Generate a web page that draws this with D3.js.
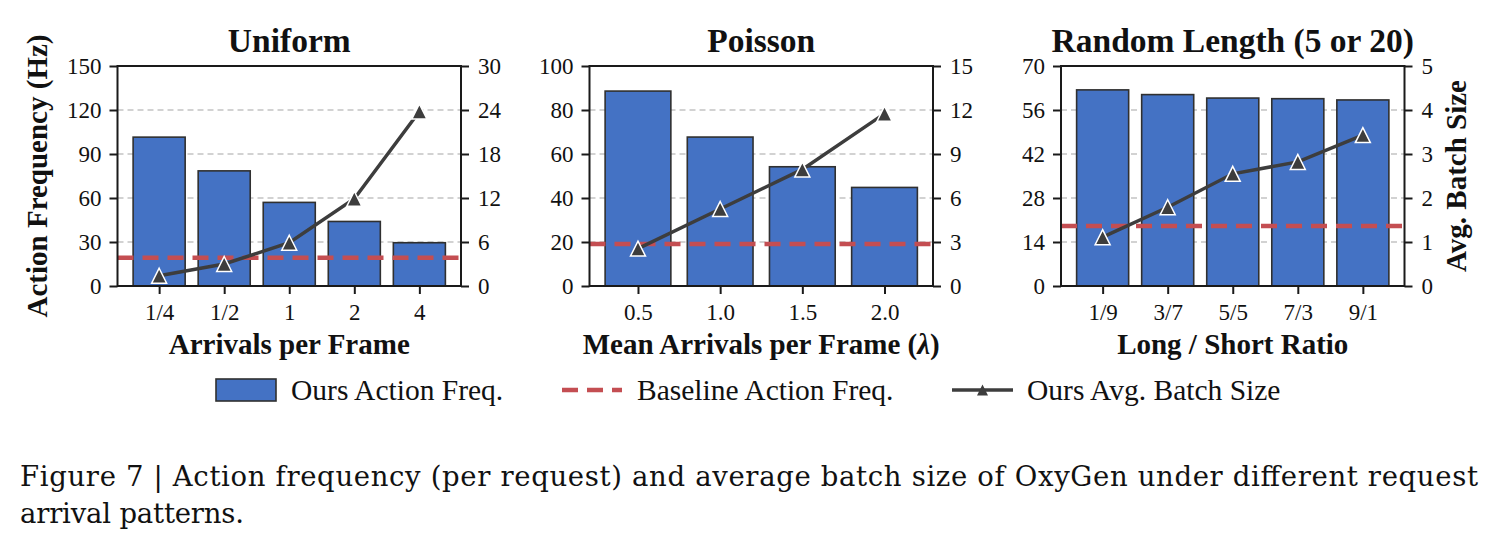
<!DOCTYPE html>
<html>
<head>
<meta charset="utf-8" />
<title>Figure 7</title>
<script src="https://cdn.jsdelivr.net/npm/d3@7"></script>
<style>
	body { margin: 0; background: #fff; }
</style>
</head>
<body>
<script>

// data
var uniformCats = ["1/4", "1/2", "1", "2", "4"];
var uniformFreq = [101.5, 78.5, 57, 44, 29.5];
var uniformBatch = [1.4, 3.0, 5.9, 11.9, 23.8];

var poissonCats = ["0.5", "1.0", "1.5", "2.0"];
var poissonFreq = [88.6, 67.7, 54.2, 44.8];
var poissonBatch = [2.55, 5.25, 7.95, 11.75];

var lengthCats = ["1/9", "3/7", "5/5", "7/3", "9/1"];
var lengthFreq = [62.4, 60.9, 59.8, 59.6, 59.2];
var lengthBatch = [1.11, 1.79, 2.55, 2.82, 3.43];

var baselineFreq = [19.3, 19.1, 19.1];

var leftTicks = [
	[0, 30, 60, 90, 120, 150],
	[0, 20, 40, 60, 80, 100],
	[0, 14, 28, 42, 56, 70]
];
var rightTicks = [
	[0, 6, 12, 18, 24, 30],
	[0, 3, 6, 9, 12, 15],
	[0, 1, 2, 3, 4, 5]
];

var titles = ["Uniform", "Poisson", "Random Length (5 or 20)"];
var xLabels = ["Arrivals per Frame", "Mean Arrivals per Frame", "Long / Short Ratio"];

var barColor = "#4472c4";
var baseColor = "#c44e52";
var lineColor = "#3d3d3d";
var serif = "Liberation Serif, Times New Roman, serif";

var svg = d3.select("body").append("svg")
	.attr("width", 1496)
	.attr("height", 542)
	.attr("font-family", serif)
	.attr("fill", "#111");

var panels = [
	{ cats: uniformCats, freq: uniformFreq, batch: uniformBatch, x0: 117.5, x1: 461 },
	{ cats: poissonCats, freq: poissonFreq, batch: poissonBatch, x0: 589.5, x1: 933 },
	{ cats: lengthCats, freq: lengthFreq, batch: lengthBatch, x0: 1061, x1: 1404.5 }
];
var plotTop = 66, plotBottom = 286;

function triangle(s) {
	return "M0," + (-s / 2) + "L" + (s / 2) + "," + (s / 2) + "L" + (-s / 2) + "," + (s / 2) + "Z";
}

panels.forEach(function(p, k) {
	var n = p.cats.length;
	var m = 0.05 * (n - 0.2);
	var x = d3.scaleLinear().domain([-0.4 - m, n - 0.6 + m]).range([p.x0, p.x1]);
	var lt = leftTicks[k], rt = rightTicks[k];
	var yL = d3.scaleLinear().domain([0, lt[lt.length - 1]]).range([plotBottom, plotTop]);
	var yR = d3.scaleLinear().domain([0, rt[rt.length - 1]]).range([plotBottom, plotTop]);

	var g = svg.append("g");

	// grid
	g.selectAll(".grid").data(lt.slice(1)).enter().append("line")
		.attr("x1", p.x0).attr("x2", p.x1)
		.attr("y1", function(d) { return yL(d); })
		.attr("y2", function(d) { return yL(d); })
		.attr("stroke", "#c4c4c4")
		.attr("stroke-width", 1.6)
		.attr("stroke-dasharray", "6,4");

	// bars
	g.selectAll(".bar").data(p.freq).enter().append("rect")
		.attr("x", function(d, i) { return x(i - 0.4); })
		.attr("width", function(d, i) { return x(i + 0.4) - x(i - 0.4); })
		.attr("y", function(d) { return yL(d); })
		.attr("height", function(d) { return plotBottom - yL(d); })
		.attr("fill", barColor)
		.attr("stroke", "#303030")
		.attr("stroke-width", 1.6);

	// baseline
	g.append("line")
		.attr("x1", p.x0).attr("x2", p.x1)
		.attr("y1", yL(baselineFreq[k])).attr("y2", yL(baselineFreq[k]))
		.attr("stroke", baseColor)
		.attr("stroke-width", 4.5)
		.attr("stroke-dasharray", "16,9");

	// batch size line
	var line = d3.line()
		.x(function(d, i) { return x(i); })
		.y(function(d) { return yR(d); });
	g.append("path")
		.datum(p.batch)
		.attr("d", line)
		.attr("fill", "none")
		.attr("stroke", lineColor)
		.attr("stroke-width", 3.5);
	g.selectAll(".mk").data(p.batch).enter().append("path")
		.attr("d", triangle(15))
		.attr("transform", function(d, i) { return "translate(" + x(i) + "," + yR(d) + ")"; })
		.attr("fill", lineColor)
		.attr("stroke", "#fff")
		.attr("stroke-width", 1.5);

	// spines
	g.append("rect")
		.attr("x", p.x0).attr("y", plotTop)
		.attr("width", p.x1 - p.x0).attr("height", plotBottom - plotTop)
		.attr("fill", "none")
		.attr("stroke", "#1a1a1a")
		.attr("stroke-width", 2);

	// axes
	var ax = g.append("g").attr("transform", "translate(" + p.x0 + ",0)")
		.call(d3.axisLeft(yL).tickValues(lt).tickFormat(d3.format("d")).tickSize(8).tickPadding(8));
	var ar = g.append("g").attr("transform", "translate(" + p.x1 + ",0)")
		.call(d3.axisRight(yR).tickValues(rt).tickFormat(d3.format("d")).tickSize(8).tickPadding(9));
	var ab = g.append("g").attr("transform", "translate(0," + plotBottom + ")")
		.call(d3.axisBottom(x).tickValues(d3.range(n))
			.tickFormat(function(i) { return p.cats[i]; })
			.tickSize(8).tickPadding(10));
	[ax, ar, ab].forEach(function(a) {
		a.attr("font-family", serif).attr("font-size", 23);
		a.select(".domain").remove();
		a.selectAll(".tick line").attr("stroke", "#1a1a1a").attr("stroke-width", 2);
		a.selectAll(".tick text").attr("fill", "#111");
	});

	var cx = (p.x0 + p.x1) / 2;
	g.append("text")
		.attr("x", cx).attr("y", 52)
		.attr("text-anchor", "middle")
		.attr("font-size", 33.5)
		.attr("font-weight", "bold")
		.text(titles[k]);

	var xl = g.append("text")
		.attr("x", cx).attr("y", 354)
		.attr("text-anchor", "middle")
		.attr("font-size", 29)
		.attr("font-weight", "bold")
		.text(xLabels[k]);
	if (k == 1) {
		xl.append("tspan").text(" (");
		xl.append("tspan").attr("font-style", "italic").text("λ");
		xl.append("tspan").text(")");
	}
});

// y axis titles
svg.append("text")
	.attr("transform", "translate(47," + (plotTop + plotBottom) / 2 + ") rotate(-90)")
	.attr("text-anchor", "middle")
	.attr("font-size", 29)
	.attr("font-weight", "bold")
	.text("Action Frequency (Hz)");

svg.append("text")
	.attr("transform", "translate(1466," + (plotTop + plotBottom) / 2 + ") rotate(-90)")
	.attr("text-anchor", "middle")
	.attr("font-size", 29)
	.attr("font-weight", "bold")
	.text("Avg. Batch Size");

// legend
var lg = svg.append("g");
var ly = 390;
lg.append("rect")
	.attr("x", 216).attr("y", 379).attr("width", 60).attr("height", 22)
	.attr("fill", barColor).attr("stroke", "#303030").attr("stroke-width", 1.6);
lg.append("text").attr("x", 291).attr("y", 400).attr("font-size", 29.5).text("Ours Action Freq.");

lg.append("line")
	.attr("x1", 562).attr("x2", 622).attr("y1", ly).attr("y2", ly)
	.attr("stroke", baseColor).attr("stroke-width", 4.5).attr("stroke-dasharray", "16,9");
lg.append("text").attr("x", 637).attr("y", 400).attr("font-size", 29.5).text("Baseline Action Freq.");

lg.append("line")
	.attr("x1", 952).attr("x2", 1013).attr("y1", ly).attr("y2", ly)
	.attr("stroke", lineColor).attr("stroke-width", 3.5);
lg.append("path")
	.attr("d", triangle(11))
	.attr("transform", "translate(982.5," + ly + ")")
	.attr("fill", lineColor);
lg.append("text").attr("x", 1027).attr("y", 400).attr("font-size", 29.5).text("Ours Avg. Batch Size");

// caption
svg.append("text")
	.attr("x", 20).attr("y", 486)
	.attr("font-family", "DejaVu Serif")
	.attr("font-size", 27.5)
	.attr("textLength", 1458)
	.attr("lengthAdjust", "spacing")
	.text("Figure 7 | Action frequency (per request) and average batch size of OxyGen under different request");
svg.append("text")
	.attr("x", 20).attr("y", 523)
	.attr("font-family", "DejaVu Serif")
	.attr("font-size", 27.5)
	.attr("textLength", 224)
	.attr("lengthAdjust", "spacing")
	.text("arrival patterns.");

</script>
</body>
</html>
